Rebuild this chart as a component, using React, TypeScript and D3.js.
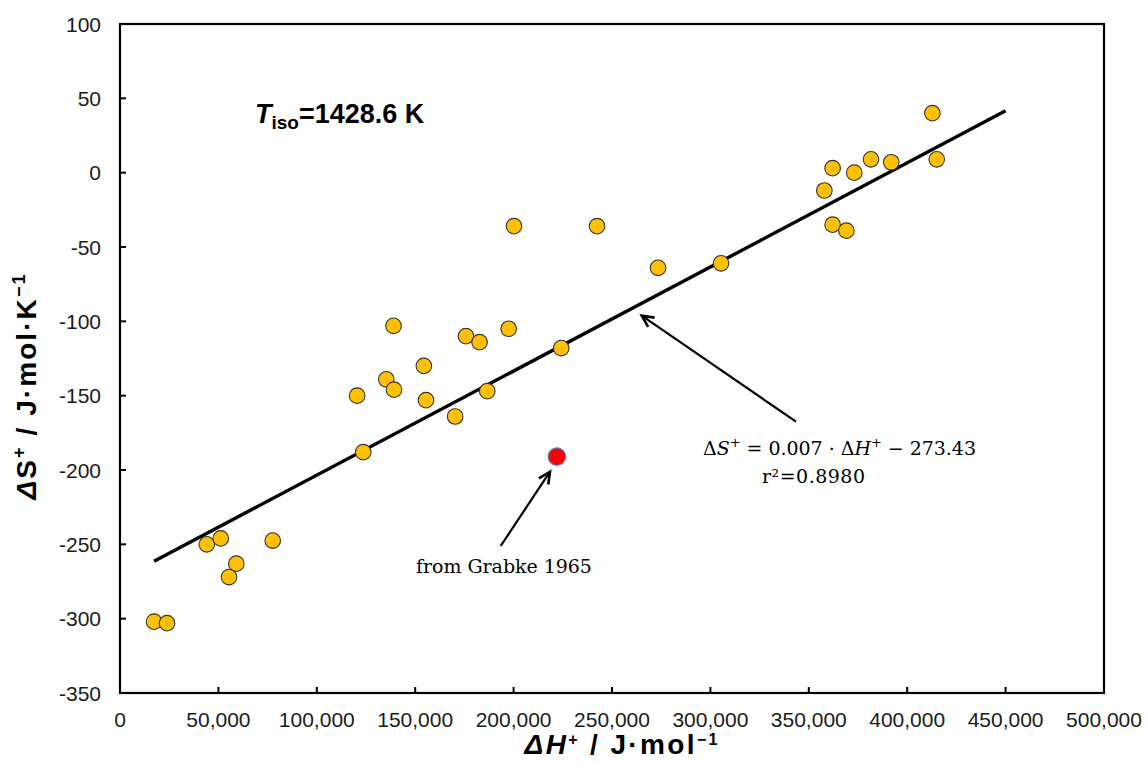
import React from 'react';
import * as d3 from 'd3';

// ΔH+ (J/mol) and ΔS+ (J/mol/K) values
const enthalpy = [17300, 23900, 44100, 51200, 55400, 59100, 77600, 123600, 120500, 135300, 139000, 139200, 154400, 155500, 170300, 175800, 182700, 186600, 197500, 200200, 224200, 242400, 273400, 305400, 357900, 362100, 362100, 369100, 373100, 381600, 391900, 412800, 415000];
const entropy = [-302, -303, -250, -246, -272, -263, -247.5, -188, -150, -139, -103, -146, -130, -153, -164, -110, -114, -147, -105, -36, -118, -36, -64, -61, -12, 3, -35, -39, 0, 9, 7, 40, 9];

const outlierH = [222000];
const outlierS = [-191];

const xTicks = [0, 50000, 100000, 150000, 200000, 250000, 300000, 350000, 400000, 450000, 500000];
const yTicks = [100, 50, 0, -50, -100, -150, -200, -250, -300, -350];

const fitSlope = 0.0007;
const fitIntercept = -273.43;
const fitRange = [17300, 450000];

// annotation anchors (data units): [headH, headS, tailH, tailS]
const arrowFit = [265100, -96.2, 343500, -167.5];
const arrowOutlier = [218500, -201.1, 193450, -251.1];

const sans = "'Liberation Sans', Arial, sans-serif";
const serif = "'DejaVu Serif', 'Liberation Serif', serif";

function Arrow({ x1, y1, x2, y2 }: { x1: number; y1: number; x2: number; y2: number }) {
  // x1,y1 = head ; x2,y2 = tail
  const ang = Math.atan2(y2 - y1, x2 - x1);
  const len = 13;
  const a = 0.45;
  const p1 = [x1 + len * Math.cos(ang + a), y1 + len * Math.sin(ang + a)];
  const p2 = [x1 + len * Math.cos(ang - a), y1 + len * Math.sin(ang - a)];
  return (
    <g stroke="#000" fill="none" strokeWidth={2.2}>
      <line x1={x2} y1={y2} x2={x1} y2={y1} />
      <polyline points={`${p1[0]},${p1[1]} ${x1},${y1} ${p2[0]},${p2[1]}`} strokeWidth={2.6} strokeLinejoin="miter" />
    </g>
  );
}

export default function App() {
  const W = 1148;
  const H = 763;
  const x = d3.scaleLinear().domain([0, 500000]).range([120, 1104]);
  const y = d3.scaleLinear().domain([-350, 100]).range([693, 24]);
  const fmt = d3.format(',');

  const fitLine = d3.line<number>()
    .x((d) => x(d))
    .y((d) => y(fitSlope * d + fitIntercept));

  const [x0, x1] = x.range();
  const [y0, y1] = y.range();

  return (
    <svg width={W} height={H} style={{ position: 'absolute', left: 0, top: 0, background: '#fff' }}>
      <rect x={0} y={0} width={W} height={H} fill="#fff" />
      {/* ticks */}
      {xTicks.map((t) => (
        <g key={'xt' + t}>
          <line x1={x(t)} x2={x(t)} y1={y0} y2={y0 - 6} stroke="#000" strokeWidth={2} />
          <text x={x(t)} y={727} textAnchor="middle" fontFamily={sans} fontSize={21} fill="#1a1a1a">
            {fmt(t)}
          </text>
        </g>
      ))}
      {yTicks.map((t) => (
        <g key={'yt' + t}>
          <line x1={x0} x2={x0 + 6} y1={y(t)} y2={y(t)} stroke="#000" strokeWidth={2} />
          <text x={101} y={y(t)} dy="0.36em" textAnchor="end" fontFamily={sans} fontSize={21} fill="#1a1a1a">
            {t}
          </text>
        </g>
      ))}
      {/* frame */}
      <rect x={x0} y={y1} width={x1 - x0} height={y0 - y1} fill="none" stroke="#000" strokeWidth={2.2} />

      {/* fit line */}
      <path d={fitLine(fitRange) || ''} fill="none" stroke="#000" strokeWidth={3.4} />

      {/* points */}
      {enthalpy.map((h, i) => (
        <circle key={'p' + i} cx={x(h)} cy={y(entropy[i])} r={7.8} fill="#FFC000" stroke="#333" strokeWidth={1.1} />
      ))}
      {outlierH.map((h, i) => (
        <circle key={'o' + i} cx={x(h)} cy={y(outlierS[i])} r={8.8} fill="#FF0000" stroke="#5B7FC7" strokeWidth={1.2} />
      ))}

      {/* arrows */}
      <Arrow x1={x(arrowFit[0])} y1={y(arrowFit[1])} x2={x(arrowFit[2])} y2={y(arrowFit[3])} />
      <Arrow x1={x(arrowOutlier[0])} y1={y(arrowOutlier[1])} x2={x(arrowOutlier[2])} y2={y(arrowOutlier[3])} />

      {/* annotations */}
      <text x={x(68600)} y={y(33.2)} fontFamily={sans} fontWeight="bold" fontSize={27} fill="#000">
        <tspan fontStyle="italic">T</tspan>
        <tspan fontSize={19} dy={6}>iso</tspan>
        <tspan dy={-6}>=1428.6 K</tspan>
      </text>

      <text x={x(365600)} y={y(-189.9)} textAnchor="middle" fontFamily={serif} fontSize={19} fill="#000" textLength={273} lengthAdjust="spacing">
        <tspan>Δ</tspan>
        <tspan fontStyle="italic">S</tspan>
        <tspan fontSize={13} dy={-8}>+</tspan>
        <tspan dy={8}> = 0.007 · Δ</tspan>
        <tspan fontStyle="italic">H</tspan>
        <tspan fontSize={13} dy={-8}>+</tspan>
        <tspan dy={8}> − 273.43</tspan>
      </text>
      <text x={x(352400)} y={y(-208.8)} textAnchor="middle" fontFamily={serif} fontSize={19} fill="#000" textLength={103} lengthAdjust="spacing">
        r²=0.8980
      </text>
      <text x={x(195100)} y={y(-269)} textAnchor="middle" fontFamily={serif} fontSize={19} fill="#000" textLength={176} lengthAdjust="spacing">
        from Grabke 1965
      </text>

      {/* axis titles */}
      <text x={621} y={754} textAnchor="middle" fontFamily={sans} fontWeight="bold" fontSize={28} fill="#000" textLength={193} lengthAdjust="spacing">
        <tspan fontStyle="italic">ΔH</tspan>
        <tspan fontSize={16} dy={-9}>+</tspan>
        <tspan dy={9}> / J·mol</tspan>
        <tspan fontSize={16} dy={-9}>−1</tspan>
      </text>
      <text transform="translate(36,387) rotate(-90)" textAnchor="middle" fontFamily={sans} fontWeight="bold" fontSize={28} fill="#000" textLength={225} lengthAdjust="spacing">
        <tspan fontStyle="italic">Δ</tspan>
        <tspan>S</tspan>
        <tspan fontSize={18} dy={-11}>+</tspan>
        <tspan dy={11}> / J·mol·K</tspan>
        <tspan fontSize={18} dy={-11}>−1</tspan>
      </text>
    </svg>
  );
}
